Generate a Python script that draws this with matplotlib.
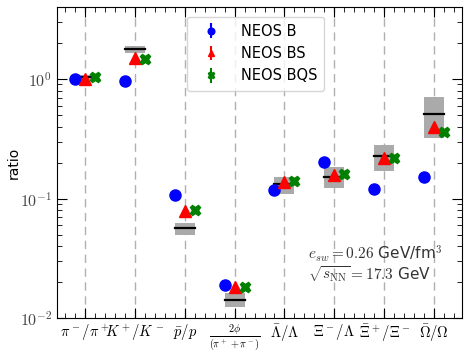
import numpy as np
import matplotlib
matplotlib.use("Agg")
import matplotlib.pyplot as plt
from matplotlib.ticker import FuncFormatter, NullFormatter

plt.rcParams['mathtext.fontset'] = 'cm'
plt.rcParams['font.family'] = ['DejaVu Sans']

categories = [r'$\pi^-/\pi^+$', r'$K^+/K^-$', r'$\bar{p}/p$',
              r'$\frac{2\phi}{(\pi^++\pi^-)}$', r'$\bar{\Lambda}/\Lambda$',
              r'$\Xi^-/\Lambda$', r'$\bar{\Xi}^+/\Xi^-$', r'$\bar{\Omega}/\Omega$']
neos_b = [1.00, 0.97, 0.107, 0.0188, 0.118, 0.202, 0.120, 0.151]
neos_bs = [1.00, 1.50, 0.079, 0.0182, 0.137, 0.157, 0.218, 0.397]
neos_bqs = [1.04, 1.47, 0.080, 0.0182, 0.140, 0.160, 0.220, 0.360]
exp_val = [1.03, 1.78, 0.057, 0.0141, 0.133, 0.151, 0.227, 0.51]
exp_lo = [0.98, 1.65, 0.050, 0.0123, 0.109, 0.122, 0.170, 0.32]
exp_hi = [1.08, 1.90, 0.062, 0.0162, 0.151, 0.184, 0.280, 0.71]

x = np.arange(len(categories))

fig = plt.figure(figsize=(4.71, 3.53), dpi=100)
ax = fig.add_axes([0.121, 0.099, 0.860, 0.881])

for xi in x:
    ax.axvline(xi, color='#b0b0b0', ls=(0, (6, 4)), lw=1.0, zorder=0)

w = 0.2
for xi, v, lo, hi in zip(x, exp_val, exp_lo, exp_hi):
    ax.fill_between([xi - w, xi + w], [lo, lo], [hi, hi], color='#aaaaaa', lw=0, zorder=1)
    ax.plot([xi - w, xi + w], [v, v], color='black', lw=1.6, zorder=2)

zeros = np.zeros(len(x))
ax.errorbar(x - 0.2, neos_b, yerr=zeros, fmt='o', color='blue', ms=8, label='NEOS B', zorder=3)
ax.errorbar(x, neos_bs, yerr=zeros, fmt='^', color='red', ms=8, label='NEOS BS', zorder=3)
ax.errorbar(x + 0.2, neos_bqs, yerr=zeros, fmt='X', color='green', ms=7.5, label='NEOS BQS', zorder=3)

ax.set_yscale('log')
ax.set_ylim(0.01, 4.0)
ax.set_xlim(-0.56, 7.56)
ax.yaxis.set_major_formatter(FuncFormatter(lambda v, p: r'$10^{%d}$' % int(round(np.log10(v)))))
ax.yaxis.set_minor_formatter(NullFormatter())
ax.set_xticks(x)
ax.set_xticklabels(categories, fontsize=10.5)
ax.set_xticks(np.arange(-0.4, 7.6, 0.2), minor=True)
ax.tick_params(which='both', direction='in', top=True, right=True)
ax.tick_params(which='major', length=7, labelsize=10.5, color='black')
ax.tick_params(axis='y', which='major', labelsize=11.5, labelcolor='#444444')
ax.tick_params(which='minor', length=3.5)
ax.tick_params(axis='x', which='major', pad=3)
ax.set_ylabel('ratio', fontsize=10)
ax.yaxis.set_label_coords(-0.09, 0.5)

leg = ax.legend(loc='upper center', bbox_to_anchor=(0.49, 0.993), fontsize=10.5,
                markerscale=0.6, handlelength=2.4, borderpad=0.5, labelspacing=0.5)

ax.text(0.62, 0.188, r'$e_{sw} = 0.26$ GeV/fm$^3$', transform=ax.transAxes,
        fontsize=11, color='#333333')
ax.text(0.62, 0.123, r'$\sqrt{s_{\rm NN}} = 17.3$ GeV', transform=ax.transAxes,
        fontsize=11, color='#333333')

fig.savefig('out.png', dpi=100)
